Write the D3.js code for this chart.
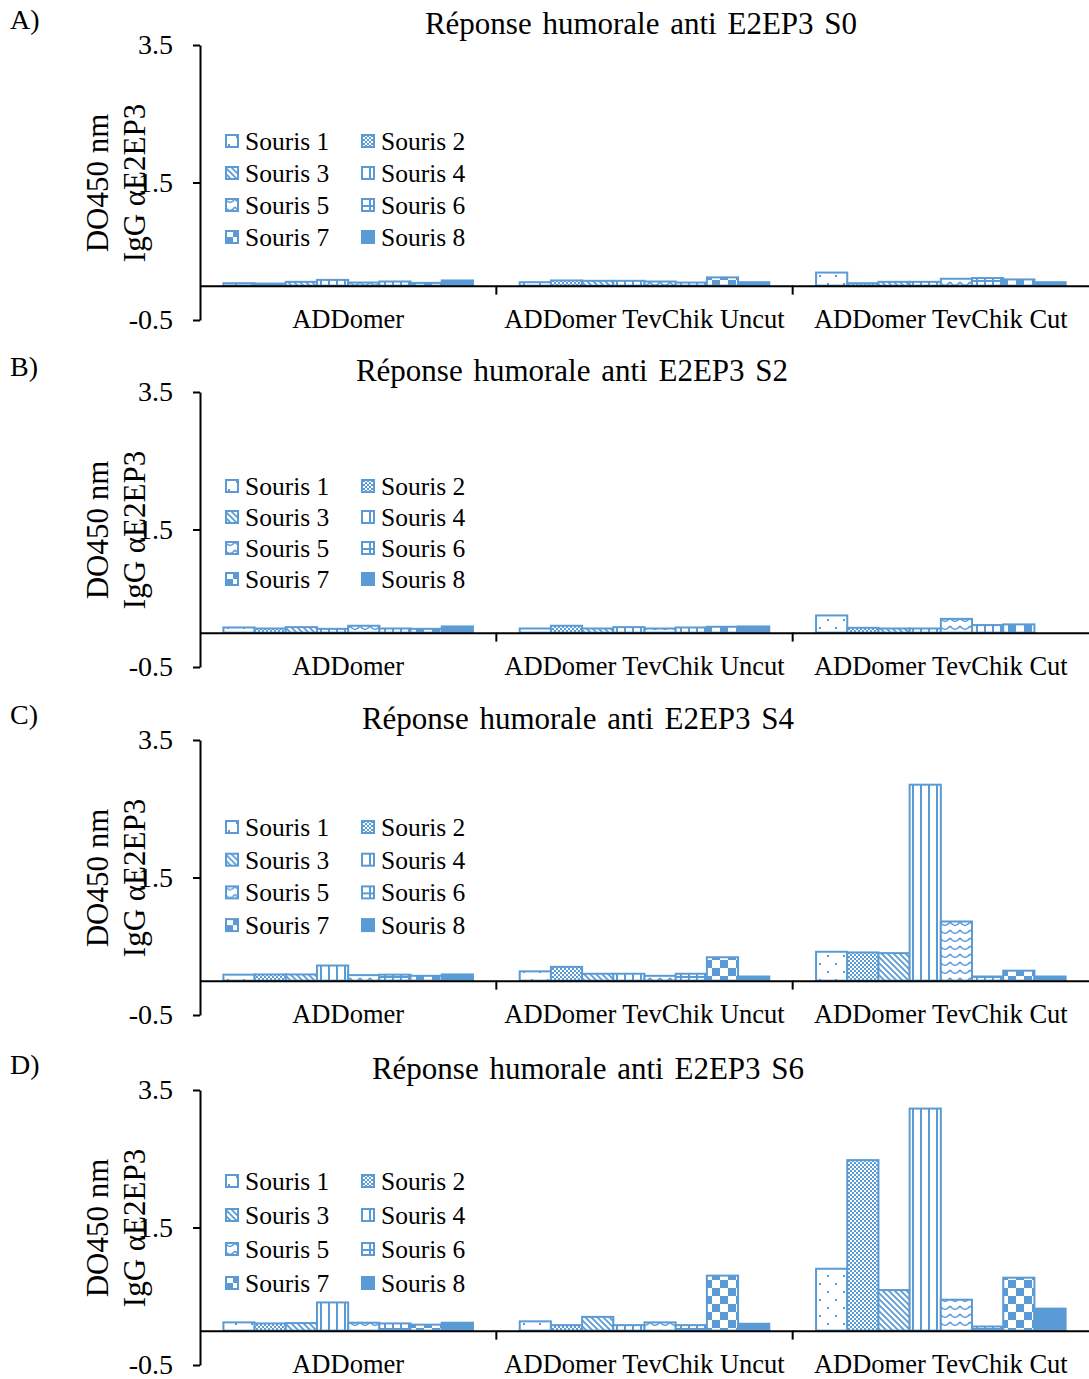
<!DOCTYPE html>
<html lang="fr">
<head>
<meta charset="UTF-8"/>
<title>Réponse humorale anti E2EP3</title>
<script src="https://d3js.org/d3.v7.min.js"></script>
<style>
  body { margin: 0; background: #fff; }
  text { font-family: "Liberation Serif", "Times New Roman", serif; fill: #000; }
</style>
</head>
<body>
<div id="chart"></div>
<script>
// Data
var categories = ["ADDomer", "ADDomer TevChik Uncut", "ADDomer TevChik Cut"];
var series = ["Souris 1", "Souris 2", "Souris 3", "Souris 4", "Souris 5", "Souris 6", "Souris 7", "Souris 8"];
var panelLetters = ["A)", "B)", "C)", "D)"];
var panelTitles = ["Réponse humorale anti E2EP3 S0", "Réponse humorale anti E2EP3 S2",
                   "Réponse humorale anti E2EP3 S4", "Réponse humorale anti E2EP3 S6"];
var yTicks = [-0.5, 1.5, 3.5];

// values[category][souris]
var valuesS0 = [
  [0.035, 0.03, 0.055, 0.083, 0.045, 0.06, 0.04, 0.075],
  [0.05, 0.075, 0.07, 0.07, 0.06, 0.045, 0.12, 0.05],
  [0.19, 0.035, 0.055, 0.055, 0.10, 0.11, 0.09, 0.05]
];
var valuesS2 = [
  [0.075, 0.06, 0.08, 0.055, 0.10, 0.06, 0.055, 0.09],
  [0.06, 0.10, 0.06, 0.08, 0.06, 0.075, 0.085, 0.09],
  [0.25, 0.07, 0.06, 0.06, 0.20, 0.11, 0.12, 0.0]
];
var valuesS4 = [
  [0.087, 0.09, 0.09, 0.22, 0.08, 0.087, 0.07, 0.09],
  [0.135, 0.20, 0.10, 0.10, 0.07, 0.10, 0.34, 0.06],
  [0.42, 0.41, 0.40, 2.85, 0.86, 0.06, 0.145, 0.06]
];
var valuesS6 = [
  [0.12, 0.105, 0.11, 0.41, 0.115, 0.105, 0.087, 0.115],
  [0.135, 0.08, 0.20, 0.08, 0.12, 0.08, 0.80, 0.10],
  [0.90, 2.48, 0.59, 3.23, 0.45, 0.06, 0.77, 0.32]
];
var panelValues = [valuesS0, valuesS2, valuesS4, valuesS6];

// Layout
var w = 1089, h = 1379;
var blue = "#5B9BD5";
var panelTop = [45, 392, 740, 1090];
var panelH = 275;
var titleX = [641, 572, 578, 588];
var legendY = [96, 94, 87, 91];
var legendStep = [32, 31, 32.7, 34];

var svg = d3.select("#chart").append("svg")
  .attr("width", w)
  .attr("height", h);

// Patterns
var defs = svg.append("defs");
function pat(id, pw, ph) {
  return defs.append("pattern").attr("id", id)
    .attr("patternUnits", "userSpaceOnUse")
    .attr("width", pw).attr("height", ph);
}
var p;
// 1: sparse dots
p = pat("p0", 16, 16);
p.append("rect").attr("width", 16).attr("height", 16).attr("fill", "#fff");
p.append("rect").attr("x", 3).attr("y", 3).attr("width", 2).attr("height", 2).attr("fill", blue);
p.append("rect").attr("x", 11).attr("y", 11).attr("width", 2).attr("height", 2).attr("fill", blue);
// 2: fine checker
p = pat("p1", 4, 4);
p.append("rect").attr("width", 4).attr("height", 4).attr("fill", "#fff");
p.append("rect").attr("width", 2).attr("height", 2).attr("fill", blue);
p.append("rect").attr("x", 2).attr("y", 2).attr("width", 2).attr("height", 2).attr("fill", blue);
// 3: wide downward diagonal
p = pat("p2", 6, 6);
p.append("rect").attr("width", 6).attr("height", 6).attr("fill", "#fff");
p.append("path").attr("d", "M0,0L6,6M-1,5L1,7M5,-1L7,1")
  .attr("stroke", blue).attr("stroke-width", 1.8);
// 4: vertical lines
p = pat("p3", 8, 8);
p.append("rect").attr("width", 8).attr("height", 8).attr("fill", "#fff");
p.append("rect").attr("x", 0).attr("width", 2).attr("height", 8).attr("fill", blue);
// 5: wave
p = pat("p4", 10, 8);
p.append("rect").attr("width", 10).attr("height", 8).attr("fill", "#fff");
p.append("path").attr("d", "M0,2Q5,9 10,2").attr("fill", "none")
  .attr("stroke", blue).attr("stroke-width", 1.6);
// 6: large grid
p = pat("p5", 8, 8);
p.append("rect").attr("width", 8).attr("height", 8).attr("fill", "#fff");
p.append("rect").attr("x", 0).attr("width", 2).attr("height", 8).attr("fill", blue);
p.append("rect").attr("y", 0).attr("width", 8).attr("height", 2).attr("fill", blue);
// 7: large checker
p = pat("p6", 16, 16);
p.append("rect").attr("width", 16).attr("height", 16).attr("fill", "#fff");
p.append("rect").attr("width", 8).attr("height", 8).attr("fill", blue);
p.append("rect").attr("x", 8).attr("y", 8).attr("width", 8).attr("height", 8).attr("fill", blue);

function fillFor(i) {
  return i === 7 ? blue : "url(#p" + i + ")";
}

// Scales
var xCat = d3.scaleBand()
  .domain(categories)
  .range([200, w])
  .paddingInner(0)
  .paddingOuter(0);

var xSer = d3.scaleBand()
  .domain(series)
  .range([0, xCat.bandwidth()])
  .paddingInner(0)
  .paddingOuter(0.75);

panelValues.forEach(function(vals, pi) {
  var top = panelTop[pi];
  var yScale = d3.scaleLinear()
    .domain([-0.5, 3.5])
    .range([top + panelH, top]);

  var g = svg.append("g");

  // letter and title
  g.append("text")
    .attr("x", 10).attr("y", top - 16)
    .attr("font-size", "28px")
    .text(panelLetters[pi]);
  g.append("text")
    .attr("x", titleX[pi]).attr("y", top - 11)
    .attr("text-anchor", "middle")
    .attr("font-size", "31px")
    .attr("word-spacing", "3px")
    .text(panelTitles[pi]);

  // bars
  var flat = [];
  vals.forEach(function(row, ci) {
    row.forEach(function(v, si) {
      flat.push({c: categories[ci], s: si, v: v});
    });
  });
  g.selectAll("rect.bar")
    .data(flat.filter(function(d) { return d.v > 0; }))
    .enter()
    .append("rect")
    .attr("class", "bar")
    .attr("x", function(d) { return xCat(d.c) + xSer(series[d.s]); })
    .attr("y", function(d) { return yScale(d.v); })
    .attr("width", xSer.bandwidth())
    .attr("height", function(d) { return yScale(0) - yScale(d.v); })
    .attr("fill", function(d) { return fillFor(d.s); })
    .attr("stroke", blue)
    .attr("stroke-width", 2);

  // y axis
  var yAxis = d3.axisLeft(yScale)
    .tickValues(yTicks)
    .tickFormat(function(d) { return d.toFixed(1); })
    .tickSize(7)
    .tickSizeOuter(0)
    .tickPadding(20);
  var ya = g.append("g")
    .attr("transform", "translate(200,0)")
    .call(yAxis);
  ya.select(".domain").attr("stroke", "#000").attr("stroke-width", 2);
  ya.selectAll(".tick line").attr("stroke", "#000").attr("stroke-width", 2);
  ya.selectAll(".tick text")
    .attr("font-family", "Liberation Serif")
    .attr("font-size", "28px")
    .attr("fill", "#000");

  // x axis at zero
  var xAxis = d3.axisBottom(xCat)
    .tickSize(0)
    .tickSizeOuter(0)
    .tickPadding(24);
  var xa = g.append("g")
    .attr("transform", "translate(0," + yScale(0) + ")")
    .call(xAxis);
  xa.select(".domain").attr("stroke", "#000").attr("stroke-width", 2);
  xa.selectAll(".tick text")
    .attr("font-family", "Liberation Serif")
    .attr("font-size", "26.5px")
    .attr("fill", "#000");
  xa.selectAll("line.sep")
    .data(categories.slice(1))
    .enter()
    .append("line")
    .attr("class", "sep")
    .attr("x1", function(d) { return xCat(d); })
    .attr("x2", function(d) { return xCat(d); })
    .attr("y1", 0).attr("y2", 9)
    .attr("stroke", "#000").attr("stroke-width", 2);

  // y axis title
  var cy = top + 138;
  g.append("text")
    .attr("transform", "translate(108," + cy + ") rotate(-90)")
    .attr("text-anchor", "middle")
    .attr("font-size", "31px")
    .text("DO450 nm");
  g.append("text")
    .attr("transform", "translate(145," + cy + ") rotate(-90)")
    .attr("text-anchor", "middle")
    .attr("font-size", "31px")
    .text("IgG αE2EP3");

  // legend
  var leg = g.selectAll("g.leg")
    .data(series)
    .enter()
    .append("g")
    .attr("class", "leg")
    .attr("transform", function(d, i) {
      var col = i % 2, row = Math.floor(i / 2);
      return "translate(" + (225 + col * 136) + "," + (top + legendY[pi] + row * legendStep[pi]) + ")";
    });
  leg.append("rect")
    .attr("x", 1).attr("y", -6)
    .attr("width", 12).attr("height", 12)
    .attr("fill", function(d, i) { return fillFor(i); })
    .attr("stroke", blue)
    .attr("stroke-width", 2);
  leg.append("text")
    .attr("x", 20).attr("y", 0)
    .attr("dy", "0.35em")
    .attr("font-size", "25.5px")
    .text(function(d) { return d; });
});
</script>
</body>
</html>
